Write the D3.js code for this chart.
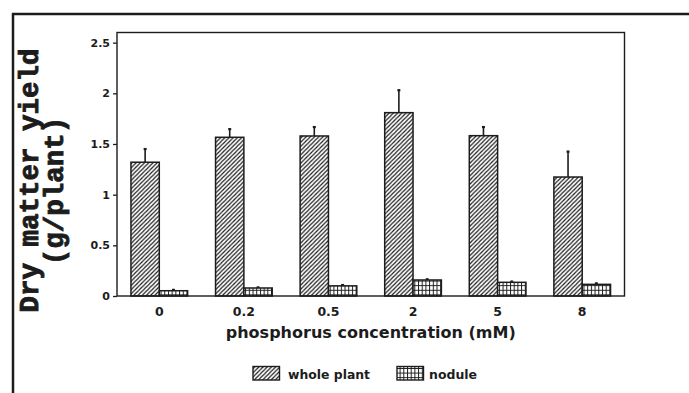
<!DOCTYPE html>
<html>
<head>
<meta charset="utf-8">
<script src="https://cdn.jsdelivr.net/npm/d3@7"></script>
<style>
  html, body { margin: 0; padding: 0; background: #fff; }
  svg { display: block; }
</style>
</head>
<body>
<svg id="chart" width="689" height="393"></svg>
<script>
// Phosphorus concentrations (mM) on the x axis
const categories = ["0", "0.2", "0.5", "2", "5", "8"];
const seriesNames = ["whole plant", "nodule"];
// Dry matter yield (g/plant), mean values
const wholePlant = [1.32, 1.566, 1.579, 1.809, 1.582, 1.174];
const nodule = [0.052, 0.079, 0.10, 0.158, 0.135, 0.115];
// Upper error bar lengths (g/plant)
const wholePlantErr = [0.14, 0.09, 0.098, 0.231, 0.095, 0.26];
const noduleErr = [0.018, 0.014, 0.018, 0.016, 0.016, 0.018];
const yTicks = [0, 0.5, 1, 1.5, 2, 2.5];
const yMax = 2.6;

const ink = "#1c1c1c";
const svg = d3.select("#chart");

const margin = { left: 117, right: 64.5, top: 32.5, bottom: 97 };
const W = 689, H = 393;
const x0 = margin.left, x1 = W - margin.right;
const y0 = H - margin.bottom, y1 = margin.top;

// Fill patterns: diagonal hatch and grid
const defs = svg.append("defs");
const diag = defs.append("pattern")
  .attr("id", "hatch-diag").attr("patternUnits", "userSpaceOnUse")
  .attr("width", 4.2).attr("height", 4.2);
diag.append("rect").attr("width", 4.2).attr("height", 4.2).attr("fill", "#fff");
diag.append("path")
  .attr("d", "M0,4.2 L4.2,0 M-1,1 L1,-1 M3.2,5.2 L5.2,3.2")
  .attr("stroke", ink).attr("stroke-width", 1.2);

const grid = defs.append("pattern")
  .attr("id", "hatch-grid").attr("patternUnits", "userSpaceOnUse")
  .attr("width", 3.7).attr("height", 4.6);
grid.append("rect").attr("width", 3.7).attr("height", 4.6).attr("fill", "#fff");
grid.append("path")
  .attr("d", "M0.5,0 V4.6 M0,0.5 H3.7")
  .attr("stroke", ink).attr("stroke-width", 1);

const fills = ["url(#hatch-diag)", "url(#hatch-grid)"];

// Outer figure border (top and left edges)
svg.append("line").attr("x1", 12).attr("x2", W).attr("y1", 14).attr("y2", 14)
  .attr("stroke", ink).attr("stroke-width", 2.5);
svg.append("line").attr("x1", 13).attr("x2", 13).attr("y1", 13).attr("y2", H)
  .attr("stroke", ink).attr("stroke-width", 2.5);

// Scales
const x = d3.scaleBand().domain(categories).range([x0, x1])
  .paddingInner(0.33).paddingOuter(0.165);
const xs = d3.scaleBand().domain(seriesNames).range([0, x.bandwidth()]);
const y = d3.scaleLinear().domain([0, yMax]).range([y0, y1]);

// Bars
const rows = categories.map((c, i) => ({
  cat: c,
  vals: [
    { s: seriesNames[0], v: wholePlant[i], e: wholePlantErr[i], k: 0 },
    { s: seriesNames[1], v: nodule[i], e: noduleErr[i], k: 1 }
  ]
}));

const groups = svg.append("g").selectAll("g").data(rows).join("g")
  .attr("transform", d => `translate(${x(d.cat)},0)`);

// Error bars (upper only) drawn behind the bars
groups.selectAll("line.err").data(d => d.vals).join("line")
  .attr("class", "err")
  .attr("x1", d => xs(d.s) + xs.bandwidth() / 2)
  .attr("x2", d => xs(d.s) + xs.bandwidth() / 2)
  .attr("y1", d => y(d.v))
  .attr("y2", d => y(d.v + d.e))
  .attr("stroke", ink).attr("stroke-width", 1.6);
groups.selectAll("line.cap").data(d => d.vals).join("line")
  .attr("class", "cap")
  .attr("x1", d => xs(d.s) + xs.bandwidth() / 2 - 1.5)
  .attr("x2", d => xs(d.s) + xs.bandwidth() / 2 + 1.5)
  .attr("y1", d => y(d.v + d.e) + 1)
  .attr("y2", d => y(d.v + d.e) + 1)
  .attr("stroke", ink).attr("stroke-width", 2.2);

groups.selectAll("rect").data(d => d.vals).join("rect")
  .attr("x", d => xs(d.s))
  .attr("width", xs.bandwidth())
  .attr("y", d => y(d.v))
  .attr("height", d => y(0) - y(d.v))
  .attr("fill", d => fills[d.k])
  .attr("stroke", ink).attr("stroke-width", 1.5);

// Plot frame
svg.append("rect").attr("x", x0).attr("y", y1)
  .attr("width", x1 - x0).attr("height", y0 - y1)
  .attr("fill", "none").attr("stroke", ink).attr("stroke-width", 1.4);

// Y axis
const yAxis = svg.append("g").attr("transform", `translate(${x0},0)`)
  .call(d3.axisLeft(y).tickValues(yTicks).tickSize(4).tickPadding(3)
    .tickFormat(d => String(d)));
yAxis.select(".domain").remove();
yAxis.selectAll("line").attr("stroke", ink).attr("stroke-width", 1.3);
yAxis.selectAll("text")
  .attr("font-family", "DejaVu Sans, sans-serif").attr("font-weight", "bold")
  .attr("font-size", 11).attr("fill", ink);

// X axis labels
const xAxis = svg.append("g").attr("transform", `translate(0,${y0})`)
  .call(d3.axisBottom(x).tickSize(0).tickPadding(11));
xAxis.select(".domain").remove();
xAxis.selectAll("text")
  .attr("font-family", "DejaVu Sans, sans-serif").attr("font-weight", "bold")
  .attr("font-size", 12.5).attr("fill", ink);

// Axis titles
svg.append("text")
  .attr("x", (x0 + x1) / 2).attr("y", 338)
  .attr("text-anchor", "middle")
  .attr("font-family", "DejaVu Sans, sans-serif").attr("font-weight", "bold")
  .attr("font-size", 15).attr("fill", ink)
  .attr("textLength", 290).attr("lengthAdjust", "spacingAndGlyphs")
  .text("phosphorus concentration (mM)");

const yTitleStyle = sel => sel
  .attr("text-anchor", "middle")
  .attr("font-family", "Liberation Mono, Courier New, monospace").attr("font-weight", "bold")
  .attr("font-size", 27.5).attr("fill", ink)
  .attr("stroke", ink).attr("stroke-width", 0.9);
svg.append("text")
  .attr("transform", "translate(38,180.5) rotate(-90)")
  .call(yTitleStyle)
  .text("Dry matter yield");
svg.append("text")
  .attr("transform", "translate(63,191) rotate(-90)")
  .call(yTitleStyle)
  .text("(g/plant)");

// Legend
const legendItems = [
  { name: seriesNames[0], fill: fills[0], sx: 253, tx: 288, w: 82 },
  { name: seriesNames[1], fill: fills[1], sx: 397, tx: 429, w: 48 }
];
const legend = svg.append("g");
legendItems.forEach(it => {
  legend.append("rect")
    .attr("x", it.sx).attr("y", 366.5).attr("width", 26.5).attr("height", 13.5)
    .attr("fill", it.fill).attr("stroke", ink).attr("stroke-width", 1.4);
  legend.append("text")
    .attr("x", it.tx).attr("y", 379)
    .attr("font-family", "DejaVu Sans, sans-serif").attr("font-weight", "bold")
    .attr("font-size", 11.5).attr("fill", ink)
    .attr("textLength", it.w).attr("lengthAdjust", "spacingAndGlyphs")
    .text(it.name);
});
</script>
</body>
</html>
